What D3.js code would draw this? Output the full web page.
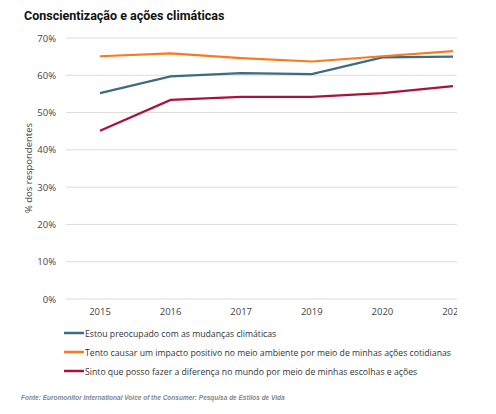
<!DOCTYPE html>
<html><head><meta charset="utf-8">
<script src="https://cdn.jsdelivr.net/npm/d3@7"></script>
<style>body{margin:0;background:#fff;font-family:"Open Sans",sans-serif}</style>
</head><body>
<svg width="496" height="414"></svg>
<script>
var years = ["2015", "2016", "2017", "2019", "2020", "2021"];
var preocupado = [55.2, 59.7, 60.6, 60.3, 64.8, 65.0];
var impacto = [65.1, 65.9, 64.6, 63.7, 65.1, 66.5];
var diferenca = [45.1, 53.4, 54.2, 54.2, 55.2, 57.1];
var yTicks = [0, 10, 20, 30, 40, 50, 60, 70];

var series = [
  {name: "Estou preocupado com as mudanças climáticas", values: preocupado, color: "#3d6b80"},
  {name: "Tento causar um impacto positivo no meio ambiente por meio de minhas ações cotidianas", values: impacto, color: "#f97a1c"},
  {name: "Sinto que posso fazer a diferença no mundo por meio de minhas escolhas e ações", values: diferenca, color: "#a8123f"}
];

var svg = d3.select("svg");

svg.append("text").attr("x", 24).attr("y", 20)
    .style("font-family", "Roboto, sans-serif").style("font-weight", "bold")
    .style("font-size", "12.5px").attr("fill", "#111")
    .text("Conscientização e ações climáticas");

svg.append("defs").append("clipPath").attr("id", "clip")
  .append("rect").attr("x", 0).attr("y", 0).attr("width", 457).attr("height", 414);

var g = svg.append("g").attr("clip-path", "url(#clip)");

var x = d3.scalePoint().domain(years).range([100, 453]);
var y = d3.scaleLinear().domain([0, 70]).range([299, 38]);

g.selectAll(".grid").data(yTicks).enter().append("line")
    .attr("x1", 66).attr("x2", 457)
    .attr("y1", function(d) { return y(d); }).attr("y2", function(d) { return y(d); })
    .attr("stroke", "#dcdcdc").attr("stroke-width", 1);

g.selectAll(".ylab").data(yTicks).enter().append("text")
    .attr("x", 56).attr("y", function(d) { return y(d) + 3.5; })
    .attr("text-anchor", "end").style("font-size", "9.5px").attr("fill", "#444")
    .text(function(d) { return d + "%"; });

g.selectAll(".xlab").data(years).enter().append("text")
    .attr("x", function(d) { return x(d); }).attr("y", 315)
    .attr("text-anchor", "middle").style("font-size", "9.5px").attr("fill", "#444")
    .text(function(d) { return d; });

svg.append("text").attr("transform", "translate(32,168) rotate(-90)")
    .attr("text-anchor", "middle").style("font-size", "9.5px").attr("fill", "#444")
    .text("% dos respondentes");

var line = d3.line().x(function(d, i) { return x(years[i]); }).y(function(d) { return y(d); });

g.selectAll(".series").data(series).enter().append("path")
    .attr("d", function(d) { return line(d.values); })
    .attr("fill", "none").attr("stroke", function(d) { return d.color; })
    .attr("stroke-width", 2.2);

var leg = svg.selectAll(".leg").data(series).enter().append("g")
    .attr("transform", function(d, i) { return "translate(64," + (333 + i * 19) + ")"; });
leg.append("line").attr("x1", 0).attr("x2", 20).attr("stroke", function(d) { return d.color; }).attr("stroke-width", 2.5);
leg.append("text").attr("x", 21).attr("y", 3.5).style("font-size", "8.7px").attr("fill", "#333")
    .text(function(d) { return d.name; });

svg.append("text").attr("x", 21).attr("y", 400)
    .style("font-family", "Arial, sans-serif").style("font-style", "italic").style("font-weight", "bold")
    .style("font-size", "6.5px").attr("fill", "#888")
    .text("Fonte: Euromonitor International Voice of the Consumer: Pesquisa de Estilos de Vida");
</script>
</body></html>
